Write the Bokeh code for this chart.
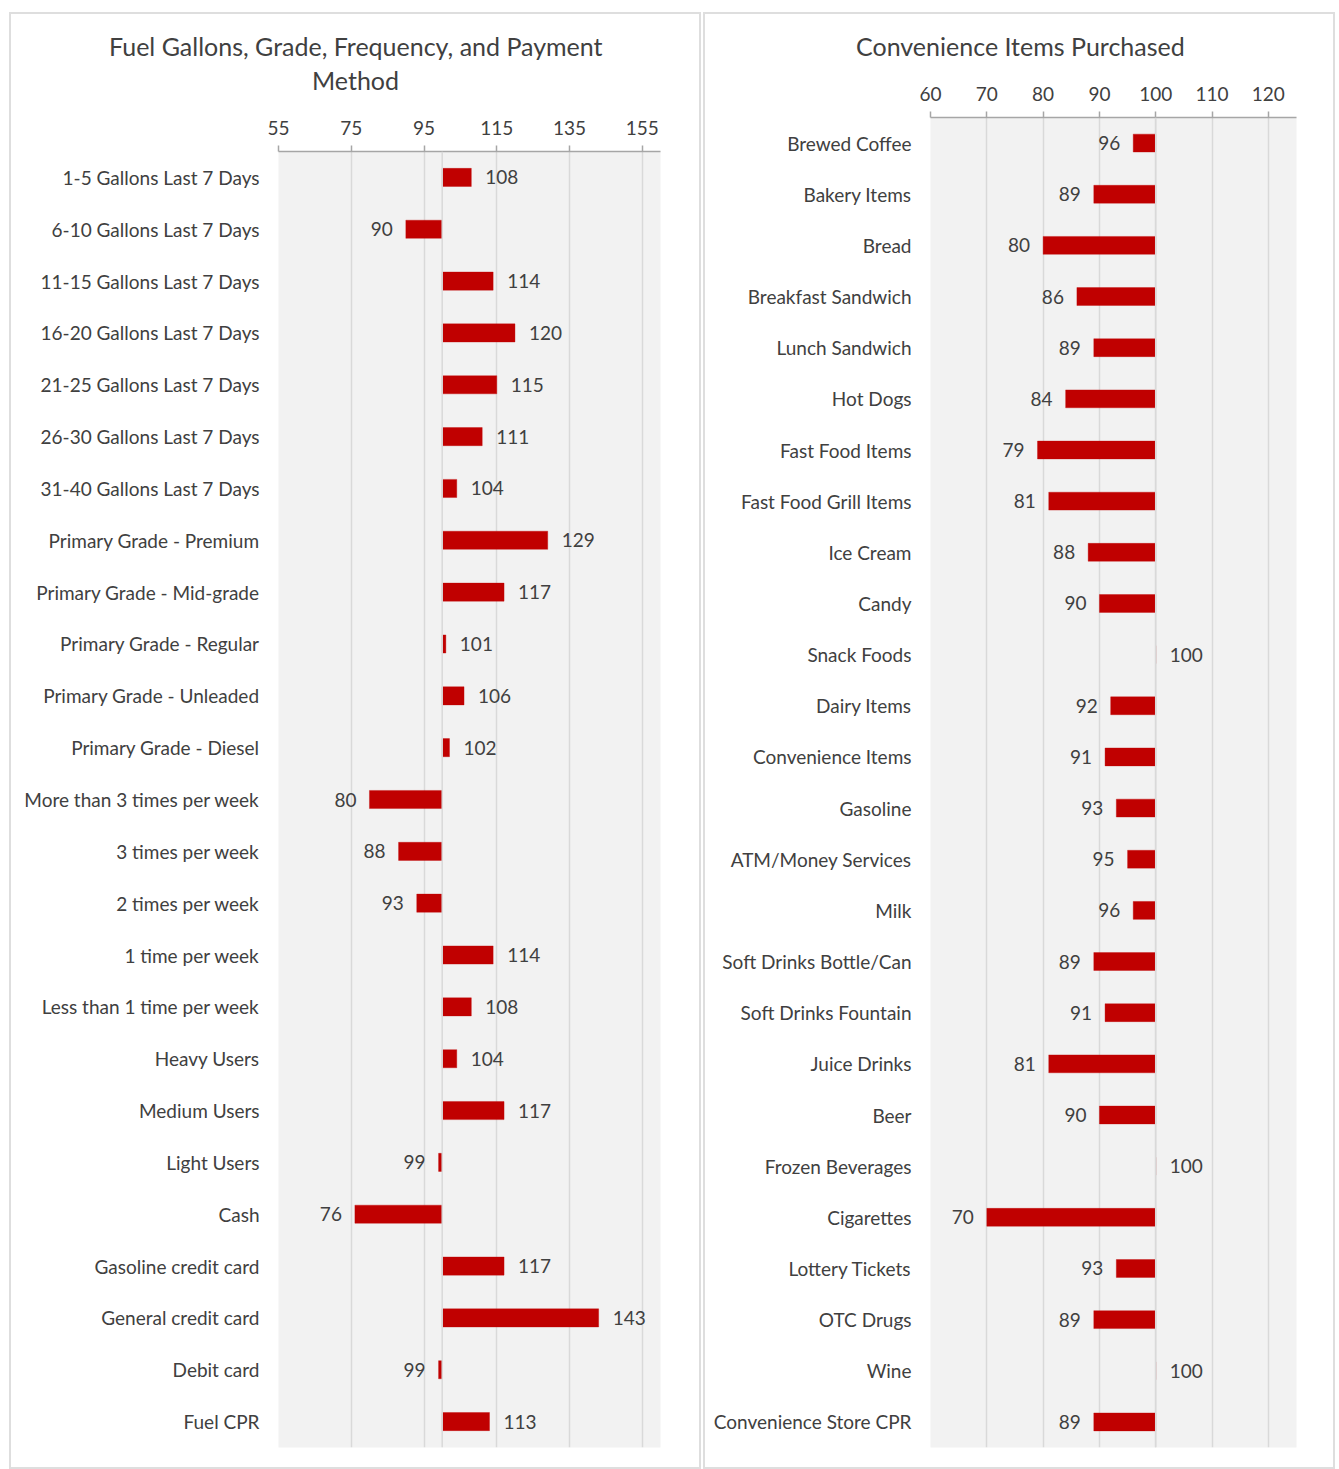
from bokeh.plotting import figure
from bokeh.layouts import column, row
from bokeh.models import (ColumnDataSource, FixedTicker, Range1d, Span, Div, Spacer,
                          Title, LinearAxis)
from bokeh.core.properties import value
from bokeh.embed import file_html
from bokeh.resources import INLINE

# ---- data -------------------------------------------------------------
fuel_title = ["Fuel Gallons, Grade, Frequency, and Payment", "Method"]
fuel_cats = [
    "1-5 Gallons Last 7 Days", "6-10 Gallons Last 7 Days", "11-15 Gallons Last 7 Days",
    "16-20 Gallons Last 7 Days", "21-25 Gallons Last 7 Days", "26-30 Gallons Last 7 Days",
    "31-40 Gallons Last 7 Days", "Primary Grade - Premium", "Primary Grade - Mid-grade",
    "Primary Grade - Regular", "Primary Grade - Unleaded", "Primary Grade - Diesel",
    "More than 3 times per week", "3 times per week", "2 times per week",
    "1 time per week", "Less than 1 time per week", "Heavy Users", "Medium Users",
    "Light Users", "Cash", "Gasoline credit card", "General credit card",
    "Debit card", "Fuel CPR",
]
fuel_vals = [108, 90, 114, 120, 115, 111, 104, 129, 117, 101, 106, 102,
             80, 88, 93, 114, 108, 104, 117, 99, 76, 117, 143, 99, 113]
fuel_ticks = [55, 75, 95, 115, 135, 155]

conv_title = ["Convenience Items Purchased"]
conv_cats = [
    "Brewed Coffee", "Bakery Items", "Bread", "Breakfast Sandwich", "Lunch Sandwich",
    "Hot Dogs", "Fast Food Items", "Fast Food Grill Items", "Ice Cream", "Candy",
    "Snack Foods", "Dairy Items", "Convenience Items", "Gasoline", "ATM/Money Services",
    "Milk", "Soft Drinks Bottle/Can", "Soft Drinks Fountain", "Juice Drinks", "Beer",
    "Frozen Beverages", "Cigarettes", "Lottery Tickets", "OTC Drugs", "Wine",
    "Convenience Store CPR",
]
conv_vals = [96, 89, 80, 86, 89, 84, 79, 81, 88, 90, 100, 92, 91, 93, 95, 96,
             89, 91, 81, 90, 100, 70, 93, 89, 100, 89]
conv_ticks = [60, 70, 80, 90, 100, 110, 120]

BASE = 100
FONT = "Lato"
TEXT = "#404040"
BAR = "#C00000"
GRID = "#d9d9d9"
PANEL_STYLE = {"box-shadow": "inset 0 0 0 2px #dedede", "background-color": "#ffffff"}
PANEL_H = 1457
TITLE_GAP = 21  # blank space between the tick labels and the chart title


def bar_panel(cats, vals, ticks, xr, width, mb_left, mb_right, mb_top,
              title_lines, title_widths, title_standoffs):
    p = figure(width=width, height=PANEL_H, y_range=list(reversed(cats)),
               x_range=Range1d(*xr), x_axis_location="above",
               toolbar_location=None, output_backend="svg",
               min_border_left=mb_left, min_border_right=mb_right,
               min_border_top=mb_top, min_border_bottom=22)
    p.background_fill_color = "#f2f2f2"
    p.border_fill_alpha = 0
    p.outline_line_color = None

    p.ygrid.visible = False
    p.xgrid.ticker = FixedTicker(ticks=ticks)
    p.xgrid.grid_line_color = GRID
    p.xgrid.grid_line_width = 1.5
    p.add_layout(Span(location=BASE, dimension="height",
                      line_color=GRID, line_width=1.5))

    xa = p.xaxis[0]
    xa.ticker = FixedTicker(ticks=ticks)
    xa.axis_line_color = "#a6a6a6"
    xa.axis_line_width = 1.5
    xa.major_tick_line_color = "#a6a6a6"
    xa.major_tick_line_width = 1.5
    xa.major_tick_out = 6
    xa.major_tick_in = 0
    xa.minor_tick_line_color = None
    xa.major_label_standoff = 11
    xa.major_label_text_font = FONT
    xa.major_label_text_font_size = "19px"
    xa.major_label_text_color = TEXT

    ya = p.yaxis[0]
    ya.axis_line_color = None
    ya.major_tick_line_color = None
    ya.minor_tick_line_color = None
    ya.major_tick_out = 0
    ya.major_tick_in = 0
    ya.major_label_standoff = 19
    ya.major_label_text_font = FONT
    ya.major_label_text_font_size = "19px"
    ya.major_label_text_color = TEXT

    src = ColumnDataSource(dict(
        cat=cats, val=vals,
        label=[str(v) for v in vals],
        align=["left" if v >= BASE else "right" for v in vals],
        off=[14 if v >= BASE else -13 for v in vals],
    ))
    p.hbar(y="cat", left=BASE, right="val", height=0.35, source=src,
           fill_color=BAR, line_color=BAR, line_alpha=0.35, line_width=1)
    p.text(x="val", y="cat", text="label", source=src, x_offset="off",
           text_align="align", text_baseline="middle",
           text_font=value(FONT), text_font_size="19px", text_color=TEXT)

    # an invisible spacer axis just above the real one keeps the title clear
    # of the tick labels
    gap = LinearAxis(ticker=FixedTicker(ticks=[xr[0]]), axis_line_color=None,
                     major_tick_line_color=None, minor_tick_line_color=None,
                     major_tick_out=TITLE_GAP, major_tick_in=0, minor_tick_out=0,
                     major_label_standoff=0, major_label_text_font_size="1px",
                     major_label_overrides={xr[0]: ""})
    p.add_layout(gap, "above")

    # chart title lines, centred on the whole panel rather than the frame;
    # lines are stacked from the frame outward, so the last line goes first
    rows = list(zip(title_lines, title_widths, title_standoffs))
    for line, w, so in reversed(rows):
        p.add_layout(Title(
            text=line, align="left", offset=width / 2 - w / 2 - mb_left,
            standoff=so, text_font=FONT, text_font_size="25px",
            text_font_style="normal", text_color=TEXT), "above")
    return p


# left panel: canvas x 9..701, y 12..1469
p1 = bar_panel(fuel_cats, fuel_vals, fuel_ticks, (55, 160), 692, 269, 41, 139,
               fuel_title, [493, 87], [0, 4])
# right panel: canvas x 703..1335
p2 = bar_panel(conv_cats, conv_vals, conv_ticks, (60, 125), 632, 227, 39, 105,
               conv_title, [327], [4])

top_rule = Div(width=1339, height=12, margin=(0, 0, 0, 0), text=(
    '<div style="height:2px;background:#e4e4e4"></div>'
    '<div style="height:2px;margin-top:2px;background:#d6d6d6"></div>'))

layout = column(
    top_rule,
    row(Spacer(width=9, height=PANEL_H),
        column(p1, styles=PANEL_STYLE),
        Spacer(width=2, height=PANEL_H),
        column(p2, styles=PANEL_STYLE)),
)

open("out.html", "w").write(file_html(layout, INLINE))
